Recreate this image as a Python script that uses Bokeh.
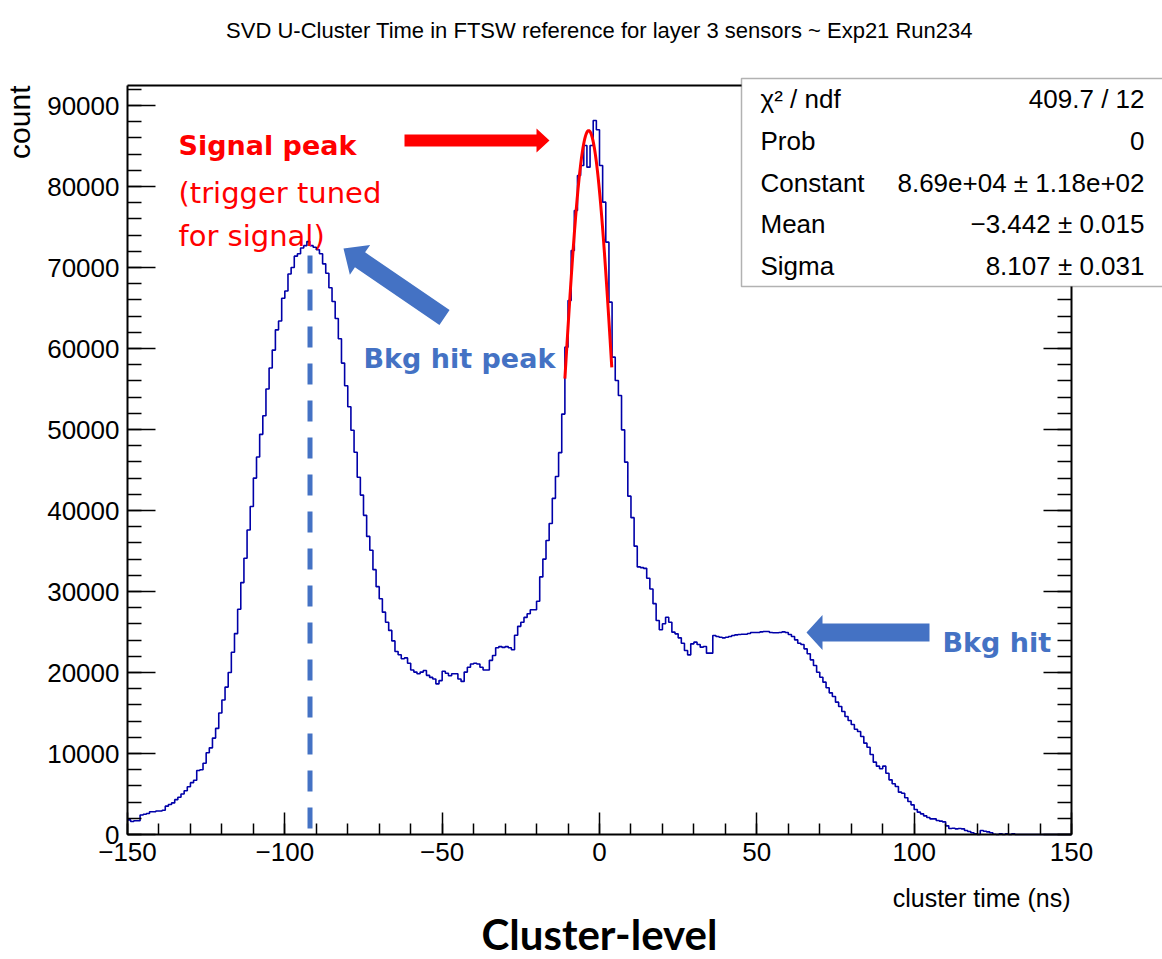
import math
import numpy as np
from bokeh.plotting import figure
from bokeh.models import (Range1d, LinearAxis, SingleIntervalTicker, FixedTicker,
                          BasicTickFormatter, CustomJSTickFormatter, Label,
                          BoxAnnotation, PolyAnnotation)
from bokeh.embed import file_html
from bokeh.resources import INLINE

# ---------------- data ----------------
TITLE = "SVD U-Cluster Time in FTSW reference for layer 3 sensors ~ Exp21 Run234"
X_LABEL = "cluster time (ns)"
Y_LABEL = "count"
CAPTION = "Cluster-level"

X_MIN, X_MAX = -150, 150
BIN_WIDTH = 1
Y_MAX = 92470
X_TICK_STEP = 50
Y_TICK_STEP = 10000

# counts per 1 ns bin, from -150 ns to +150 ns (300 bins)
COUNTS = [
    1800, 1600, 1700, 1700, 2400, 2500, 2600, 2800, 2800, 2900,
    2900, 3000, 3500, 3700, 3900, 4300, 4600, 5000, 5400, 5900,
    6400, 6700, 7900, 8000, 8800, 10100, 10700, 11900, 13100, 15000,
    16600, 18200, 20000, 22500, 24800, 27800, 31100, 34100, 37600, 40500,
    44000, 46600, 49400, 51700, 55000, 57600, 59800, 62300, 63400, 66200,
    67100, 69200, 70000, 71400, 71700, 72400, 72700, 73200,
    72700, 72500, 72200, 71700, 70450, 69300, 67500, 65800, 63700, 61200,
    58200, 55400, 52800, 49900, 47200, 44100, 41900, 39400, 36800, 35100,
    32700, 30600, 29100, 27450, 26200, 25200, 23900, 22600, 22200, 21700,
    21800, 21150, 20300, 20050, 19850, 20050, 20250, 19650, 19400, 19200,
    18600, 19000, 20150, 19900, 19600, 19850, 19850, 19200, 18900, 20050,
    20650, 21050, 21150, 21050, 20650, 20300, 20300, 21500, 22100, 23050,
    23200, 23100, 23200, 23050, 22800, 24600, 25700, 26200, 26800, 27250,
    27740, 27740, 28800, 31800, 34000, 36300, 38400, 41500, 44200, 47140,
    51900, 60170, 65930, 72100, 77040, 81360, 82600, 85060, 82390, 85060,
    88150, 87000, 82600, 78070, 73130, 65720, 58930, 56050, 54200, 49960,
    45970, 41770, 39120, 35600, 33040, 32950, 32860, 31630, 30300, 28500,
    26420, 25270, 26010, 26830, 26200, 24980, 24770, 24280, 23620, 22720,
    22180, 23540, 23750, 23460, 23130, 23210, 22390, 22390, 24570, 24450,
    24360, 24280, 24360, 24450, 24570, 24650, 24690, 24730, 24730, 24810,
    24940, 24940, 24940, 25020, 25060, 25060, 24940, 24900, 24900, 24940,
    25020, 24940, 24690, 24450, 24030, 23620, 23460, 22920, 22310, 21560,
    20870, 20040, 19420, 18810, 18110, 17490, 17040, 16340, 15800, 15190,
    14570, 14070, 13580, 13000, 12720, 12100, 11280, 10780, 9880, 8930,
    8440, 8110, 8440, 7570, 6750, 6260, 5930, 5230, 5100, 4530,
    4070, 3660, 3090, 2760, 2550, 2300, 2100, 1930, 1930, 1730,
    1650, 1560, 1070, 740, 780, 700, 740, 700, 490, 370,
    210, 80, 0, 490, 410, 330, 210, 40, 0, 80,
    0, 80, 0, 80, 0, 0, 0, 0, 0, 0,
    0, 0, 0, 0, 0, 0, 0, 0, 0, 0, 0, 0,
]

# Gaussian fit (stat box)
FIT_CONSTANT = 8.69e4
FIT_MEAN = -3.442
FIT_SIGMA = 8.107
FIT_RANGE = (-11.0, 3.9)
STAT_NAMES = ["\u03c7\u00b2 / ndf", "Prob", "Constant", "Mean", "Sigma"]
STAT_VALUES = ["409.7 / 12", "0", "8.69e+04 \u00b1 1.18e+02",
               "\u22123.442 \u00b1 0.015", "8.107 \u00b1 0.031"]

BKG_PEAK_TIME = -92

# ---------------- layout ----------------
W, H = 1162, 959
FL, FT, FW, FH = 127, 85, 944, 749          # data area (pixels)
RED = "#ff0000"
BLUE = "#4472c4"
HIST_COLOR = "#0000a8"
ROOT_FONT = "Liberation Sans"
ANN_FONT = "DejaVu Sans"

# the plotting frame covers the whole canvas; the axes sit at the data-area edges
XPP = (X_MAX - X_MIN) / FW
YPP = Y_MAX / FH
XR = (X_MIN - FL * XPP, X_MAX + (W - FL - FW) * XPP)
YR = (-(H - FT - FH) * YPP, Y_MAX + FT * YPP)


def sx(X):
    return XR[0] + X * XPP


def sy(Y):
    return YR[1] - Y * YPP


p = figure(x_range=Range1d(*XR), y_range=Range1d(*YR), width=W, height=H,
           min_border=0, min_border_left=0, min_border_right=0,
           min_border_top=0, min_border_bottom=0,
           output_backend="svg", toolbar_location=None,
           background_fill_color="white", border_fill_color="white")
p.outline_line_color = None
p.xgrid.visible = False
p.ygrid.visible = False

xa = p.below[0]
xa.ticker = SingleIntervalTicker(interval=X_TICK_STEP, num_minor_ticks=5)
xa.formatter = CustomJSTickFormatter(
    code="return (tick < 0 ? '\\u2212' : '') + Math.abs(tick).toString();")
xa.fixed_location = 0
xa.bounds = (X_MIN, X_MAX)
ya = p.left[0]
ya.ticker = SingleIntervalTicker(interval=Y_TICK_STEP, num_minor_ticks=5)
ya.formatter = BasicTickFormatter(use_scientific=False)
ya.fixed_location = X_MIN
ya.bounds = (0, Y_MAX)

ra = LinearAxis(ticker=SingleIntervalTicker(interval=Y_TICK_STEP, num_minor_ticks=5),
                fixed_location=X_MAX, bounds=(0, Y_MAX))
p.add_layout(ra, "right")
ta = LinearAxis(ticker=FixedTicker(ticks=[], minor_ticks=[]),
                fixed_location=Y_MAX, bounds=(X_MIN, X_MAX))
p.add_layout(ta, "above")

for ax, major, minor in ((xa, 22, 11), (ya, 28, 14), (ra, 28, 14), (ta, 0, 0)):
    ax.major_tick_in = major
    ax.major_tick_out = 0
    ax.minor_tick_in = minor
    ax.minor_tick_out = 0
    ax.axis_line_width = 2
    ax.major_tick_line_width = 1.5
    ax.minor_tick_line_width = 1.5
    ax.axis_line_color = "black"
    ax.major_tick_line_color = "black"
    ax.minor_tick_line_color = "black"
    ax.major_label_text_font = ROOT_FONT
    ax.major_label_text_font_size = "26px"
    ax.major_label_text_color = "black"
    ax.major_label_standoff = 8
for ax in (ra, ta):
    ax.major_label_text_color = None

# histogram
edges = [X_MIN + i * BIN_WIDTH for i in range(len(COUNTS) + 1)]
p.step(edges, COUNTS + [COUNTS[-1]], mode="after", line_color=HIST_COLOR, line_width=1.6)

# fit curve
fx = np.linspace(FIT_RANGE[0], FIT_RANGE[1], 200)
fy = FIT_CONSTANT * np.exp(-0.5 * ((fx - FIT_MEAN) / FIT_SIGMA) ** 2)
p.line(fx, fy, line_color=RED, line_width=3)

# dashed marker at the background peak
p.segment(x0=[BKG_PEAK_TIME], y0=[sy(828)], x1=[BKG_PEAK_TIME], y1=[sy(255)],
          line_color=BLUE, line_width=5, line_dash="21 16")


def arrow(X0, Y0, X1, Y1, shaft, head_w, head_len, color):
    L = math.hypot(X1 - X0, Y1 - Y0)
    ux, uy = (X1 - X0) / L, (Y1 - Y0) / L
    px, py = -uy, ux
    bx, by = X1 - ux * head_len, Y1 - uy * head_len
    pts = [(X0 + px * shaft / 2, Y0 + py * shaft / 2),
           (bx + px * shaft / 2, by + py * shaft / 2),
           (bx + px * head_w / 2, by + py * head_w / 2),
           (X1, Y1),
           (bx - px * head_w / 2, by - py * head_w / 2),
           (bx - px * shaft / 2, by - py * shaft / 2),
           (X0 - px * shaft / 2, Y0 - py * shaft / 2)]
    p.add_layout(PolyAnnotation(xs=[sx(a) for a, _ in pts], ys=[sy(b) for _, b in pts],
                                fill_color=color, fill_alpha=1.0, line_color=None))


arrow(404, 140, 549, 140, 12, 24, 13, RED)
arrow(444, 317, 343, 248, 18, 36, 20, BLUE)
arrow(929, 632, 806, 632, 18, 35, 16, BLUE)


def label(X, Y, text, font, size, color="black", style="normal", align="left",
          baseline="alphabetic", angle=0.0, level="annotation"):
    p.add_layout(Label(x=sx(X), y=sy(Y), text=text, text_font=font,
                       text_font_size=size, text_color=color, text_font_style=style,
                       text_align=align, text_baseline=baseline, angle=angle,
                       level=level))


label(178, 145, "Signal peak", ANN_FONT, "27px", RED, "bold")
label(178, 192, "(trigger tuned", ANN_FONT, "29px", RED)
label(178, 235, "for signal)", ANN_FONT, "29px", RED)
label(363, 358, "Bkg hit peak", ANN_FONT, "27px", BLUE, "bold")
label(942, 642, "Bkg hit", ANN_FONT, "27px", BLUE, "bold")

# titles
label(599, 30, TITLE, ROOT_FONT, "22px", align="center")
label(1070, 897, X_LABEL, ROOT_FONT, "25px", align="right")
label(19, 85, Y_LABEL, ROOT_FONT, "30px", align="right", angle=math.pi / 2)
label(599, 933, CAPTION, "Lato", "42px", style="bold", align="center", baseline="middle")

# stat box
p.add_layout(BoxAnnotation(left=sx(741), right=sx(1185), top=sy(78), bottom=sy(286),
                           fill_color="white", fill_alpha=1.0, line_color="black",
                           line_width=1.5, level="overlay"))
for k, (name, val) in enumerate(zip(STAT_NAMES, STAT_VALUES)):
    yc = 98.8 + 41.6 * k
    label(760, yc, name, ROOT_FONT, "26px", baseline="middle", level="overlay")
    label(1144, yc, val, ROOT_FONT, "26px", align="right", baseline="middle", level="overlay")

open("out.html", "w").write(file_html(p, INLINE))
